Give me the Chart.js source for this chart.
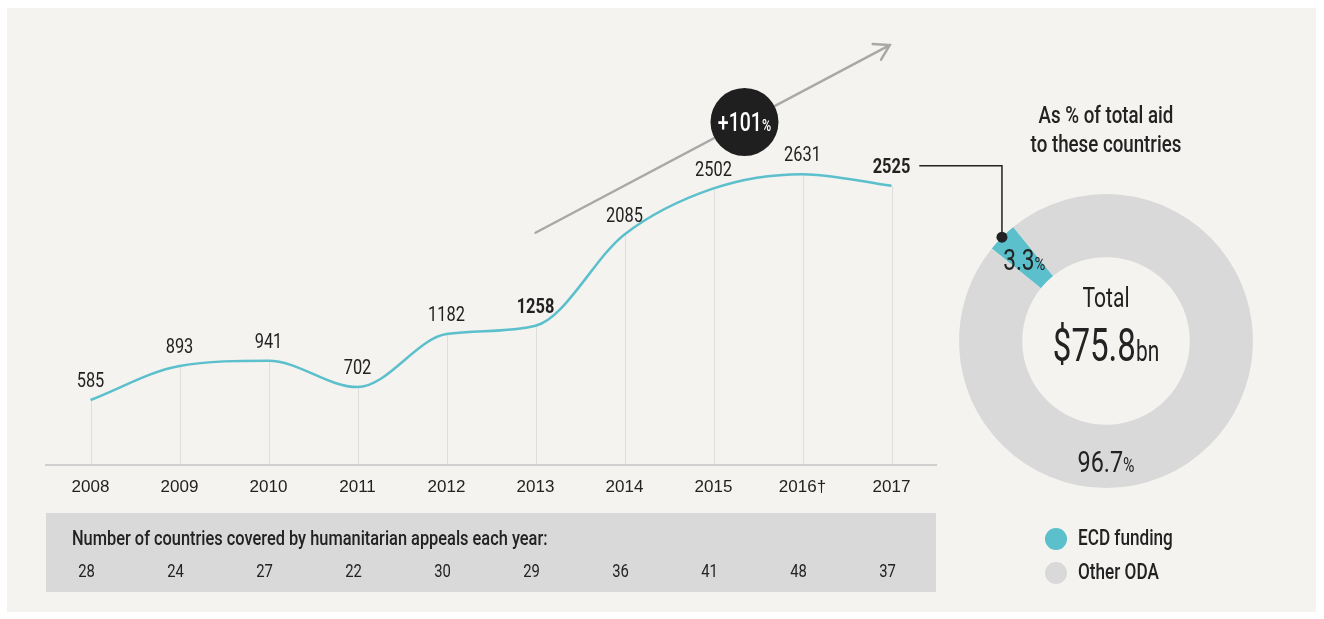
<!DOCTYPE html>
<html lang="en">
<head>
  <meta charset="UTF-8" />
  <title>ECD funding in humanitarian appeal countries</title>
  <script src="https://cdn.jsdelivr.net/npm/chart.js"></script>
  <style>
    body {
      margin: 0;
      background: #fff;
      width: 1324px;
      height: 619px;
      position: relative;
      overflow: hidden;
    }
    .panel {
      position: absolute;
      left: 7px;
      top: 8px;
      width: 1309px;
      height: 604px;
      background: #f4f3ef;
    }
    canvas {
      position: absolute;
      left: 0;
      top: 0;
    }
  </style>
</head>
<body>
  <div class="panel"></div>
  <canvas id="shareChart" width="1324" height="619"></canvas>
  <canvas id="ecdChart" width="1324" height="619"></canvas>

  <script>
    // Data
    const years = ['2008', '2009', '2010', '2011', '2012', '2013', '2014', '2015', '2016†', '2017'];
    const ecdFunding = [585, 893, 941, 702, 1182, 1258, 2085, 2502, 2631, 2525];
    const boldYears = ['2013', '2017'];
    const countriesCovered = [28, 24, 27, 22, 30, 29, 36, 41, 48, 37];
    const shareLabels = ['ECD funding', 'Other ODA'];
    const shareValues = [3.3, 96.7];
    const totalAid = '$75.8';
    const growthPct = 101;

    const FONT = "Roboto, 'Liberation Sans', sans-serif";
    const SQUEEZE = 0.78;   // no condensed face installed, so squeeze text sideways
    const TEAL = '#5bbfcc';
    const INK = '#222222';

    function narrowText(ctx, text, x, y, font, align, sx) {
      ctx.save();
      ctx.font = font;
      ctx.translate(x, y);
      ctx.scale(sx || SQUEEZE, 1);
      ctx.textAlign = align || 'center';
      ctx.fillText(text, 0, 0);
      ctx.restore();
    }

    // draws text pieces of different sizes side by side, centred on cx
    function drawMixed(ctx, parts, cx, y, color, sx) {
      sx = sx || SQUEEZE;
      ctx.save();
      ctx.textBaseline = 'alphabetic';
      ctx.fillStyle = color;
      let total = 0;
      parts.forEach(p => { ctx.font = p[1]; total += ctx.measureText(p[0]).width * sx; });
      let x = cx - total / 2;
      parts.forEach(p => {
        ctx.font = p[1];
        narrowText(ctx, p[0], x, y, p[1], 'left', sx);
        x += ctx.measureText(p[0]).width * sx;
      });
      ctx.restore();
    }

    const lineDecor = {
      id: 'lineDecor',
      beforeDatasetsDraw(chart) {
        const ctx = chart.ctx;
        const area = chart.chartArea;
        const meta = chart.getDatasetMeta(0);
        // thin drop lines from each point to the axis
        ctx.save();
        ctx.strokeStyle = '#dedede';
        ctx.lineWidth = 1;
        meta.data.forEach(pt => {
          ctx.beginPath();
          ctx.moveTo(Math.round(pt.x) + 0.5, pt.y);
          ctx.lineTo(Math.round(pt.x) + 0.5, area.bottom);
          ctx.stroke();
        });
        ctx.restore();
      },
      afterDatasetsDraw(chart) {
        const ctx = chart.ctx;
        const x = chart.scales.x;
        const y = chart.scales.y;
        const meta = chart.getDatasetMeta(0);

        // value labels
        ctx.save();
        ctx.textBaseline = 'middle';
        ctx.fillStyle = INK;
        meta.data.forEach((pt, i) => {
          const bold = boldYears.includes(years[i]);
          narrowText(ctx, String(ecdFunding[i]), pt.x, pt.y - 18, (bold ? 'bold ' : '') + '21px ' + FONT, 'center');
        });
        ctx.restore();

        // growth arrow
        const x0 = x.getPixelForValue(5), y0 = y.getPixelForValue(2100);
        const x1 = x.getPixelForValue(8.98), y1 = y.getPixelForValue(3800);
        const ang = Math.atan2(y1 - y0, x1 - x0);
        ctx.save();
        ctx.strokeStyle = '#a8a8a8';
        ctx.lineWidth = 2.5;
        ctx.lineCap = 'round';
        ctx.beginPath();
        ctx.moveTo(x0, y0);
        ctx.lineTo(x1, y1);
        ctx.moveTo(x1 - 17 * Math.cos(ang - 0.55), y1 - 17 * Math.sin(ang - 0.55));
        ctx.lineTo(x1, y1);
        ctx.lineTo(x1 - 17 * Math.cos(ang + 0.55), y1 - 17 * Math.sin(ang + 0.55));
        ctx.stroke();

        // badge on the arrow
        const t = 0.59;
        const bx = x0 + (x1 - x0) * t, by = y0 + (y1 - y0) * t;
        ctx.fillStyle = '#1f1f1f';
        ctx.beginPath();
        ctx.arc(bx, by, 34, 0, Math.PI * 2);
        ctx.fill();
        ctx.restore();
        drawMixed(ctx, [['+' + growthPct, '500 25px ' + FONT], ['%', '500 16px ' + FONT]], bx, by + 9, '#ffffff');
      },
      afterDraw(chart) {
        const ctx = chart.ctx;
        const area = chart.chartArea;
        const x = chart.scales.x;
        // countries table
        ctx.save();
        ctx.fillStyle = '#d9d9d9';
        ctx.fillRect(area.left, 513, area.right - area.left, 79);
        ctx.fillStyle = INK;
        ctx.textBaseline = 'middle';
        narrowText(ctx, 'Number of countries covered by humanitarian appeals each year:', area.left + 26, 540, '500 21px ' + FONT, 'left');
        countriesCovered.forEach((n, i) => {
          narrowText(ctx, String(n), x.getPixelForValue(i) - 4, 572, '19px ' + FONT, 'center');
        });
        ctx.restore();
      }
    };

    const ecdChart = new Chart(document.getElementById('ecdChart'), {
      type: 'line',
      data: {
        labels: years,
        datasets: [{
          data: ecdFunding,
          borderColor: TEAL,
          borderWidth: 2.5,
          pointRadius: 0,
          fill: false,
          cubicInterpolationMode: 'monotone'
        }]
      },
      options: {
        responsive: false,
        animation: false,
        layout: { padding: { left: 46, right: 388, top: 23, bottom: 108 } },
        scales: {
          x: {
            offset: true,
            grid: { display: false, drawTicks: false },
            border: { display: true, color: '#cfcfcf', width: 2 },
            ticks: { color: INK, padding: 13, font: { family: "'Liberation Sans', Arial, sans-serif", size: 17 } }
          },
          y: { display: false, min: 0, max: 4000 }
        },
        plugins: { legend: { display: false }, tooltip: { enabled: false } }
      },
      plugins: [lineDecor]
    });

    const shareDecor = {
      id: 'shareDecor',
      afterDraw(chart) {
        const ctx = chart.ctx;
        const arcs = chart.getDatasetMeta(0).data;
        const ecd = arcs[0];
        const cx = ecd.x, cy = ecd.y;
        const midR = (ecd.innerRadius + ecd.outerRadius) / 2;

        ctx.save();
        ctx.fillStyle = INK;
        ctx.textBaseline = 'middle';
        narrowText(ctx, 'As % of total aid', cx, cy - 224, '500 24px ' + FONT, 'center');
        narrowText(ctx, 'to these countries', cx, cy - 195, '500 24px ' + FONT, 'center');
        narrowText(ctx, 'Total', cx, cy - 41, '27px ' + FONT, 'center');
        ctx.restore();
        drawMixed(ctx, [[totalAid, '46px ' + FONT], ['bn', '29px ' + FONT]], cx, cy + 20, INK, 0.72);

        // slice labels
        const ma = (ecd.startAngle + ecd.endAngle) / 2;
        drawMixed(ctx, [[String(shareValues[0]), '29px ' + FONT], ['%', '19px ' + FONT]],
          cx + Math.cos(ma) * midR, cy + Math.sin(ma) * midR + 11, INK);
        drawMixed(ctx, [[String(shareValues[1]), '30px ' + FONT], ['%', '20px ' + FONT]],
          cx, cy + midR + 16, INK);

        // legend
        ctx.save();
        ctx.textBaseline = 'middle';
        shareLabels.forEach((lab, i) => {
          const ly = cy + 198 + i * 34;
          ctx.fillStyle = chart.data.datasets[0].backgroundColor[i];
          ctx.beginPath();
          ctx.arc(cx - 50, ly, 11, 0, Math.PI * 2);
          ctx.fill();
          ctx.fillStyle = INK;
          narrowText(ctx, lab, cx - 28, ly, '500 22px ' + FONT, 'left');
        });
        ctx.restore();

        // leader from the 2017 label to the ECD slice
        const last = ecdChart.getDatasetMeta(0).data[ecdFunding.length - 1];
        ctx.save();
        ctx.font = 'bold 21px ' + FONT;
        const lw = ctx.measureText(String(ecdFunding[ecdFunding.length - 1])).width * SQUEEZE;
        const sx = last.x + lw / 2 + 9, sy = last.y - 20;
        const dx = cx + Math.cos(ma) * ecd.outerRadius, dy = cy + Math.sin(ma) * ecd.outerRadius;
        ctx.strokeStyle = INK;
        ctx.lineWidth = 1.5;
        ctx.beginPath();
        ctx.moveTo(sx, sy);
        ctx.lineTo(dx, sy);
        ctx.lineTo(dx, dy);
        ctx.stroke();
        ctx.fillStyle = INK;
        ctx.beginPath();
        ctx.arc(dx, dy, 5.5, 0, Math.PI * 2);
        ctx.fill();
        ctx.restore();
      }
    };

    new Chart(document.getElementById('shareChart'), {
      type: 'doughnut',
      data: {
        labels: shareLabels,
        datasets: [{
          data: shareValues,
          backgroundColor: [TEAL, '#d9d9d9'],
          borderWidth: 0
        }]
      },
      options: {
        responsive: false,
        animation: false,
        cutout: '57%',
        rotation: -51,
        layout: { padding: { left: 959, right: 71, top: 194, bottom: 131 } },
        plugins: { legend: { display: false }, tooltip: { enabled: false } }
      },
      plugins: [shareDecor]
    });
  </script>
</body>
</html>
